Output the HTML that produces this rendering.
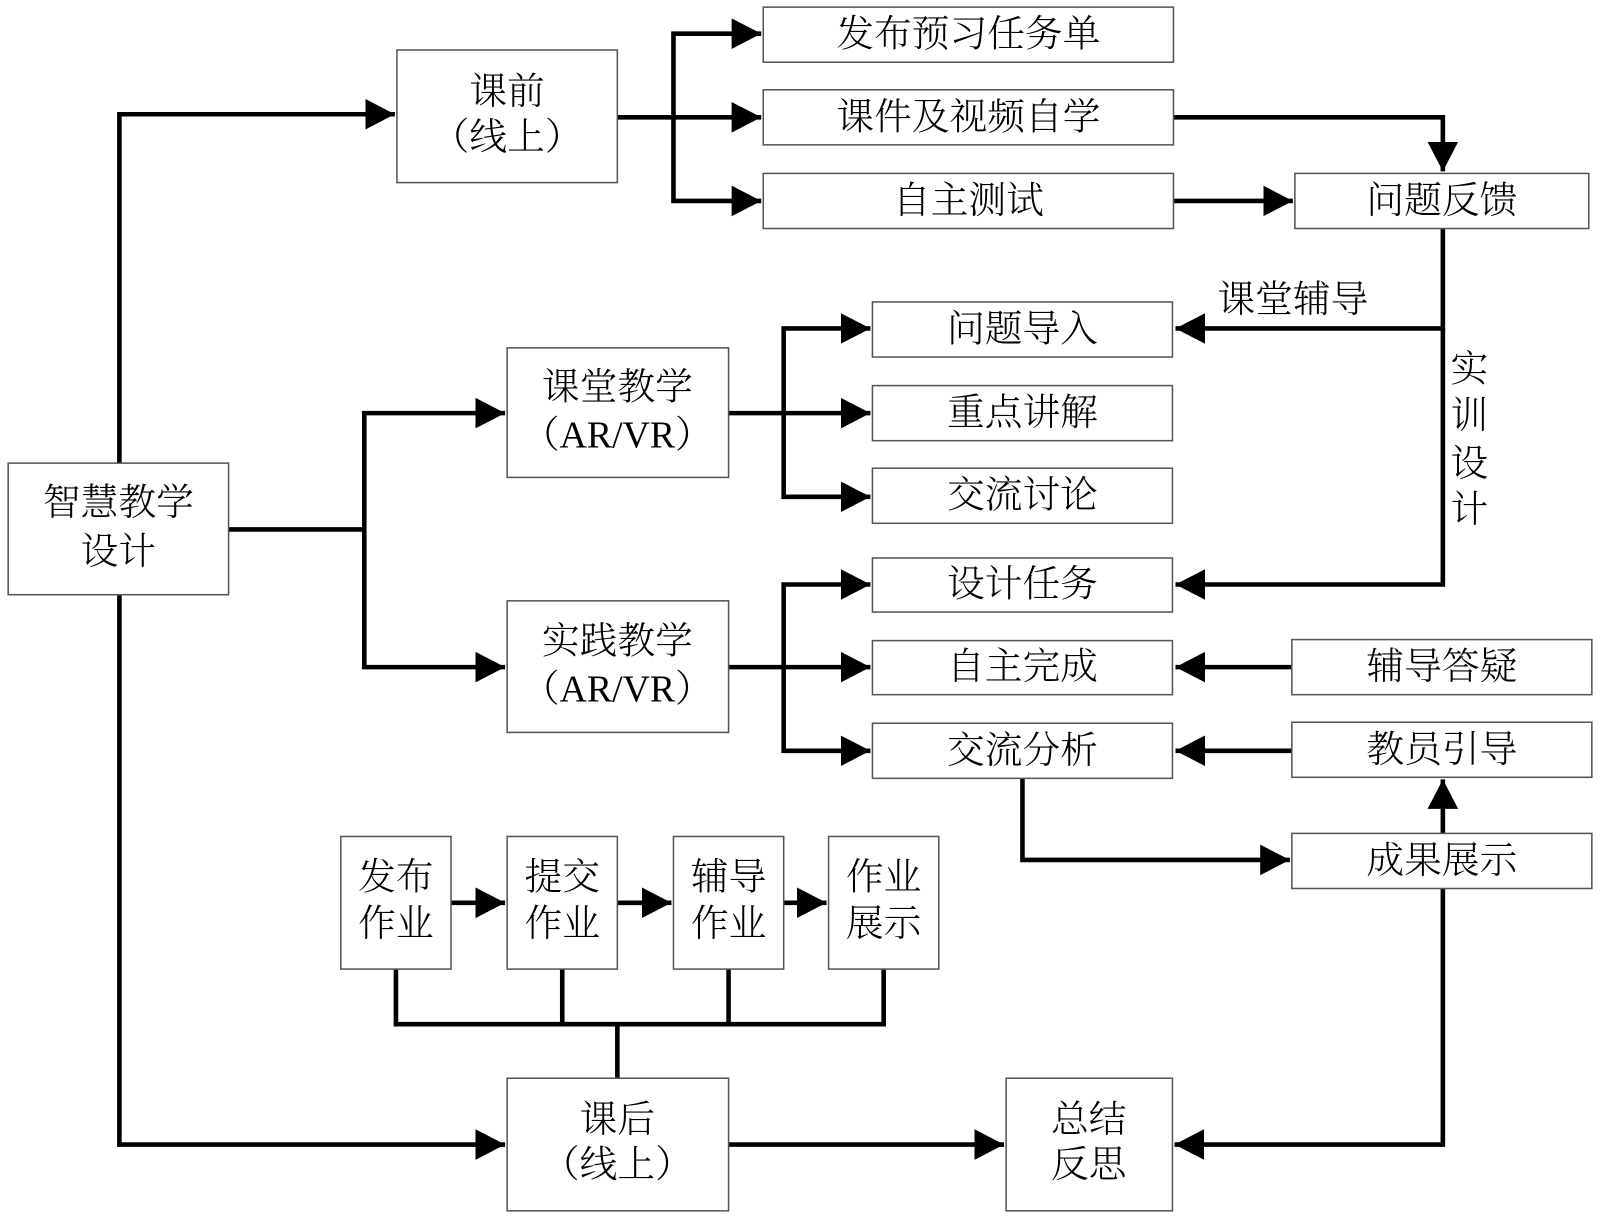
<!DOCTYPE html>
<html><head><meta charset="utf-8"><style>
html,body{margin:0;padding:0;background:#fff;}
svg{display:block;}
text{font-family:"Liberation Serif","Noto Serif CJK SC",serif;fill:#000;text-anchor:middle;dominant-baseline:central;font-weight:300;}
rect{fill:#fff;stroke:#555;stroke-width:1.5;}
.l{stroke:#000;stroke-width:4.5;fill:none;stroke-linejoin:miter;}
</style></head><body>
<svg width="1600" height="1219" viewBox="0 0 1568 1195" preserveAspectRatio="none" xmlns="http://www.w3.org/2000/svg">
<defs>
<marker id="a" markerUnits="userSpaceOnUse" markerWidth="32" markerHeight="32" refX="29" refY="15" orient="auto">
<path d="M0,0 L29,15 L0,30 Z" fill="#000"/>
</marker>
</defs>
<g class="l">
<path d="M117,454 V112 H387" marker-end="url(#a)"/>
<path d="M117,583 V1122 H495" marker-end="url(#a)"/>
<path d="M224,519 H357"/>
<path d="M357,519 V405 H495" marker-end="url(#a)"/>
<path d="M357,519 V654 H495" marker-end="url(#a)"/>
<path d="M605,115 H660"/>
<path d="M660,115 V33 H746" marker-end="url(#a)"/>
<path d="M660,115 H746" marker-end="url(#a)"/>
<path d="M660,115 V197 H746" marker-end="url(#a)"/>
<path d="M1150,115 H1414 V168" marker-end="url(#a)"/>
<path d="M1150,197 H1267" marker-end="url(#a)"/>
<path d="M1414,224 V322 H1152" marker-end="url(#a)"/>
<path d="M1414,322 V573 H1152" marker-end="url(#a)"/>
<path d="M714,405 H768"/>
<path d="M768,405 V322 H853" marker-end="url(#a)"/>
<path d="M768,405 H853" marker-end="url(#a)"/>
<path d="M768,405 V487 H853" marker-end="url(#a)"/>
<path d="M714,654 H768"/>
<path d="M768,654 V573 H853" marker-end="url(#a)"/>
<path d="M768,654 H853" marker-end="url(#a)"/>
<path d="M768,654 V736 H853" marker-end="url(#a)"/>
<path d="M1266,654 H1152" marker-end="url(#a)"/>
<path d="M1266,736 H1152" marker-end="url(#a)"/>
<path d="M1002,763 V843 H1264" marker-end="url(#a)"/>
<path d="M1414,817 V764" marker-end="url(#a)"/>
<path d="M1414,871 V1122 H1151" marker-end="url(#a)"/>
<path d="M714,1122 H984" marker-end="url(#a)"/>
<path d="M442,885 H495" marker-end="url(#a)"/>
<path d="M605,885 H658" marker-end="url(#a)"/>
<path d="M768,885 H810" marker-end="url(#a)"/>
<path d="M388,950 V1004 H866 V950"/>
<path d="M551,950 V1004"/>
<path d="M714,950 V1004"/>
<path d="M605,1004 V1057"/>
</g>
<g font-size="37">
<rect x="8" y="454" width="216" height="129"/>
<text x="116" y="493">智慧教学</text><text x="116" y="541">设计</text>
<rect x="389" y="49" width="216" height="130"/>
<text x="497" y="90">课前</text><text x="497" y="135">（线上）</text>
<rect x="748" y="7" width="402" height="54"/><text x="949" y="34">发布预习任务单</text>
<rect x="748" y="88" width="402" height="54"/><text x="949" y="115">课件及视频自学</text>
<rect x="748" y="170" width="402" height="54"/><text x="949" y="197">自主测试</text>
<rect x="1269" y="170" width="288" height="54"/><text x="1413" y="197">问题反馈</text>
<rect x="497" y="341" width="217" height="127"/>
<text x="605" y="380">课堂教学</text><text x="605" y="427">（AR/VR）</text>
<rect x="497" y="589" width="217" height="129"/>
<text x="605" y="629">实践教学</text><text x="605" y="676">（AR/VR）</text>
<rect x="855" y="296" width="294" height="54"/><text x="1002" y="323">问题导入</text>
<rect x="855" y="378" width="294" height="54"/><text x="1002" y="405">重点讲解</text>
<rect x="855" y="459" width="294" height="54"/><text x="1002" y="486">交流讨论</text>
<rect x="855" y="547" width="294" height="53"/><text x="1002" y="573">设计任务</text>
<rect x="855" y="628" width="294" height="53"/><text x="1002" y="654">自主完成</text>
<rect x="855" y="709" width="294" height="54"/><text x="1002" y="736">交流分析</text>
<rect x="1266" y="627" width="294" height="54"/><text x="1413" y="654">辅导答疑</text>
<rect x="1266" y="708" width="294" height="54"/><text x="1413" y="735">教员引导</text>
<rect x="1266" y="817" width="294" height="54"/><text x="1413" y="844">成果展示</text>
<text x="1267" y="294">课堂辅导</text>
<text x="1440" y="362">实</text><text x="1440" y="408">训</text>
<text x="1440" y="455">设</text><text x="1440" y="500">计</text>
<rect x="334" y="820" width="108" height="130"/><text x="388" y="860">发布</text><text x="388" y="906">作业</text>
<rect x="497" y="820" width="108" height="130"/><text x="551" y="860">提交</text><text x="551" y="906">作业</text>
<rect x="660" y="820" width="108" height="130"/><text x="714" y="860">辅导</text><text x="714" y="906">作业</text>
<rect x="812" y="820" width="108" height="130"/><text x="866" y="860">作业</text><text x="866" y="906">展示</text>
<rect x="497" y="1057" width="217" height="130"/>
<text x="605" y="1098">课后</text><text x="605" y="1142">（线上）</text>
<rect x="986" y="1057" width="163" height="130"/>
<text x="1067" y="1098">总结</text><text x="1067" y="1142">反思</text>
</g>
</svg>
</body></html>
